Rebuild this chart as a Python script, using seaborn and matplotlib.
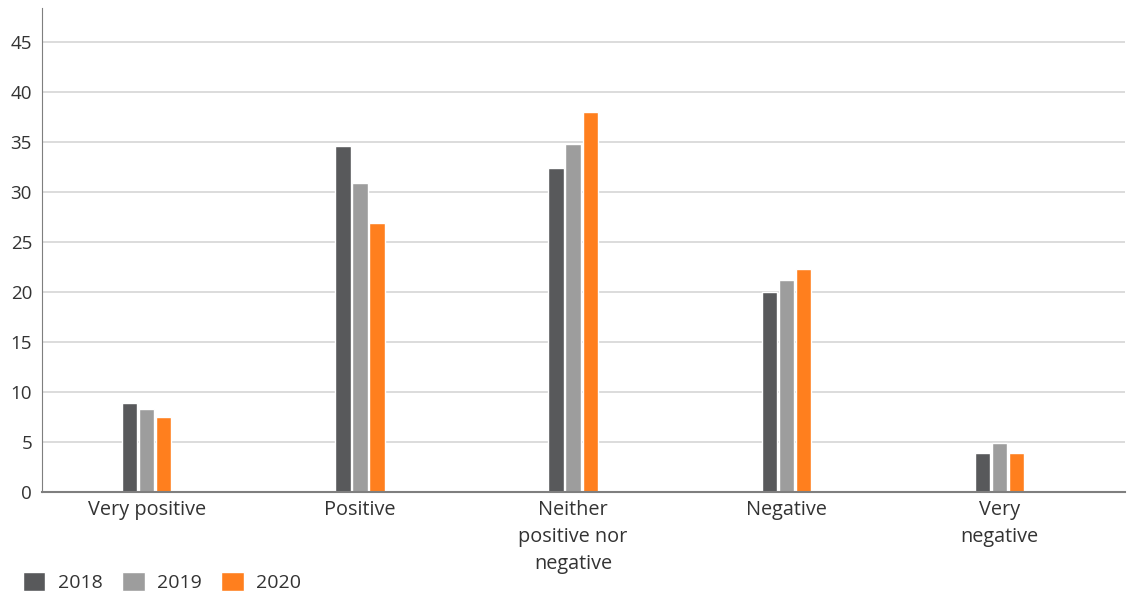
import seaborn as sns
import pandas as pd
import matplotlib.pyplot as plt

# values (percent)
categories = ['Very positive', 'Positive', 'Neither\npositive nor\nnegative', 'Negative', 'Very\nnegative']
years = ['2018', '2019', '2020']
v2018 = [8.9, 34.6, 32.4, 20.0, 3.9]
v2019 = [8.3, 30.9, 34.8, 21.2, 4.9]
v2020 = [7.5, 26.9, 38.0, 22.3, 3.9]

df = pd.DataFrame({
    'category': categories * 3,
    'year': [y for y in years for _ in categories],
    'value': v2018 + v2019 + v2020,
})

sns.set_style('white')
plt.rcParams['font.family'] = ['Open Sans', 'DejaVu Sans']

fig = plt.figure(figsize=(11.28, 5.94), dpi=100)
ax = fig.add_axes([0.037, 0.172, 0.96, 0.815])

palette = {'2018': '#58595B', '2019': '#9D9D9D', '2020': '#FF7F1E'}
sns.barplot(data=df, x='category', y='value', hue='year', palette=palette,
            width=0.24, gap=0.1, saturation=1, ax=ax, order=categories)

ax.set_ylim(0, 48.4)
ax.set_xlim(-0.492, 4.586)
ax.set_yticks(range(0, 50, 5))
ax.yaxis.grid(True, color='#D6D6D6', linewidth=1.2)
ax.set_axisbelow(True)
ax.set_xlabel('')
ax.set_ylabel('')
for s in ['top', 'right']:
    ax.spines[s].set_visible(False)
ax.spines['left'].set_color('#7F7F7F')
ax.spines['bottom'].set_color('#7F7F7F')
ax.spines['bottom'].set_linewidth(1.5)
ax.tick_params(axis='both', length=0, colors='#333333')
ax.tick_params(axis='y', pad=7, labelsize=13.5)
ax.tick_params(axis='x', pad=6, labelsize=14.3)
for lbl in ax.get_xticklabels():
    lbl.set_linespacing(1.45)

handles, labels = ax.get_legend_handles_labels()
ax.legend_.remove()
fig.legend(handles, labels, loc='lower left', bbox_to_anchor=(23 / 1128, 2 / 594),
           ncol=3, frameon=False, borderpad=0, borderaxespad=0,
           fontsize=14, handlelength=1.15, handleheight=1.15, handletextpad=0.65,
           columnspacing=1.0, labelcolor='#333333')

fig.savefig('out.png', dpi=100)
